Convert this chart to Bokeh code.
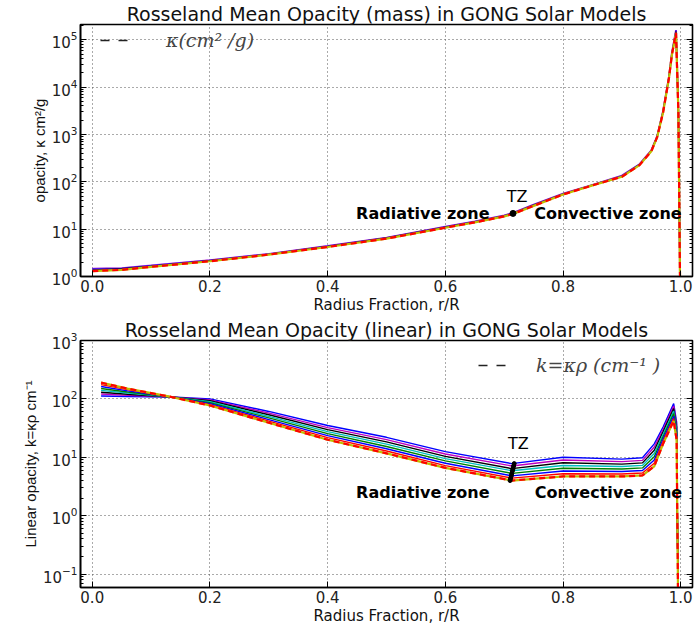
from bokeh.plotting import figure
from bokeh.layouts import column
from bokeh.models import (Label, Legend, LegendItem, LogAxis, FixedTicker,
                          PrintfTickFormatter, Range1d)
from bokeh.embed import file_html
from bokeh.resources import INLINE

# ---------------- data ----------------
x_ticks = [0.0, 0.2, 0.4, 0.6, 0.8, 1.0]

# top panel: Rosseland mean opacity kappa (cm^2/g)
r_mass = [0.0, 0.05, 0.1, 0.2, 0.3, 0.4, 0.5, 0.6, 0.65, 0.7, 0.715, 0.75, 0.8,
          0.85, 0.9, 0.93, 0.95, 0.96, 0.97, 0.98, 0.985, 0.992, 0.996, 0.999]
kappa_a = [1.45, 1.5, 1.7, 2.2, 3.0, 4.4, 6.6, 11.2, 14.5, 19.5, 22, 33, 56,
           86, 135, 235, 460, 920, 3100, 16500, 52000, 160000, 3000, 0.5]
kappa_b = [1.38, 1.45, 1.65, 2.15, 2.95, 4.3, 6.5, 11.0, 14.2, 19.0, 21.5, 32, 55,
           85, 130, 230, 450, 900, 3000, 16000, 50000, 150000, 3000, 0.5]
kappa_c = [1.3, 1.38, 1.6, 2.1, 2.9, 4.2, 6.3, 10.7, 13.9, 18.6, 21, 31, 54,
           84, 128, 225, 440, 880, 2900, 15500, 48000, 140000, 3000, 0.5]
tz_mass_r = [0.715]
tz_mass_k = [21.5]

# bottom panel: linear opacity k = kappa*rho (cm^-1), one list per model
r_lin = [0.015, 0.06, 0.134, 0.2, 0.3, 0.4, 0.5, 0.6, 0.713, 0.8, 0.9, 0.935,
         0.955, 0.97, 0.988, 0.993, 0.996]
k_m0 = [112, 110, 108, 100, 61, 35, 22, 12.5, 7.8, 10.0, 9.3, 9.8, 17, 33, 83, 40, 0.01]
k_m1 = [121, 115, 108, 96.3, 57.2, 32.3, 20.1, 11.4, 7.1, 8.98, 8.43, 8.87, 15.0, 30.0, 75.2, 36.2, 0.01]
k_m2 = [130, 120, 108, 92.8, 53.6, 29.8, 18.4, 10.4, 6.4, 8.06, 7.65, 8.03, 13.2, 27.3, 68.1, 32.8, 0.01]
k_m3 = [140, 126, 108, 89.4, 50.3, 27.5, 16.8, 9.5, 5.9, 7.24, 6.94, 7.27, 11.6, 24.8, 61.7, 29.7, 0.01]
k_m4 = [151, 131, 108, 86.1, 47.2, 25.4, 15.3, 8.7, 5.3, 6.50, 6.29, 6.58, 10.2, 22.5, 55.9, 26.9, 0.01]
k_m5 = [163, 137, 108, 82.9, 44.3, 23.5, 14.0, 7.9, 4.8, 5.84, 5.70, 5.96, 9.0, 20.5, 50.6, 24.3, 0.01]
k_m6 = [176, 144, 108, 79.9, 41.6, 21.7, 12.8, 7.2, 4.4, 5.24, 5.18, 5.40, 7.9, 18.6, 45.9, 22.0, 0.01]
k_m7 = [190, 150, 108, 77.0, 39.0, 20.0, 11.7, 6.6, 4.0, 4.70, 4.70, 4.90, 7.0, 17.0, 42.0, 20.0, 0.01]
tz_lin_r = [0.717, 0.716, 0.715, 0.714, 0.713, 0.712, 0.711, 0.710]
tz_lin_k = [7.8, 7.1, 6.4, 5.9, 5.3, 4.8, 4.4, 4.0]

# ---------------- styling helpers ----------------
FONT = "DejaVu Sans"
BLUE, GREEN, RED, CYAN, MAG, YEL, BLK = ("#0000ff", "#008000", "#ff0000",
                                         "#00bfbf", "#bf00bf", "#bfbf00", "#000000")


def decade_ticker(lo_exp, hi_exp):
    major = [10.0 ** e for e in range(lo_exp, hi_exp + 1)]
    minor = [m * 10.0 ** e for e in range(lo_exp - 1, hi_exp + 1) for m in range(2, 10)]
    return FixedTicker(ticks=major, minor_ticks=minor)


def make_fig(title, y_lo, y_hi, lo_exp, hi_exp, ylabel, frame_h):
    p = figure(frame_width=612, frame_height=frame_h, y_axis_type="log",
               x_range=Range1d(-0.02, 1.02), y_range=Range1d(y_lo, y_hi),
               output_backend="svg", toolbar_location=None,
               min_border_left=80, min_border_right=4, min_border_top=0,
               min_border_bottom=0, background_fill_color="white")
    p.extra_x_ranges = {"legend_only": Range1d(5, 6)}
    p.title.text = title
    p.title.text_font = FONT
    p.title.text_font_size = "19px"
    p.title.text_font_style = "normal"
    p.title.text_color = "#111111"
    p.title.align = "center"
    p.title.standoff = 0
    p.title.offset = 0

    p.outline_line_color = "black"
    p.outline_line_width = 1.6
    p.outline_line_alpha = 1.0

    xt = FixedTicker(ticks=x_ticks)
    p.xaxis.ticker = xt
    p.xaxis.formatter = PrintfTickFormatter(format="%.1f")
    yt = decade_ticker(lo_exp, hi_exp)
    p.yaxis.ticker = yt

    for ax in (p.xaxis, p.yaxis):
        ax.major_label_text_font = FONT
        ax.major_label_text_font_size = "15px"
        ax.major_label_text_color = "#222222"
        ax.axis_label_text_font = FONT
        ax.axis_label_text_font_style = "normal"
        ax.axis_label_text_color = "#111111"
        ax.axis_line_color = "black"
        ax.axis_line_width = 1.6
        ax.major_tick_in = 6
        ax.major_tick_out = 0
        ax.minor_tick_in = 3
        ax.minor_tick_out = 0
        ax.major_tick_line_color = "black"
        ax.minor_tick_line_color = "black"
        ax.major_label_standoff = 3
        ax.axis_label_standoff = 1
    p.xaxis.axis_label = "Radius Fraction, r/R"
    p.xaxis.axis_label_text_font_size = "15px"
    p.yaxis.axis_label = ylabel
    p.yaxis.axis_label_text_font = "Liberation Sans"
    p.yaxis.axis_label_text_font_size = "15px"

    right = LogAxis(ticker=yt, major_label_text_font_size="0px",
                    major_label_text_alpha=0, major_tick_in=6, major_tick_out=0,
                    minor_tick_in=3, minor_tick_out=0, axis_line_color="black",
                    major_label_standoff=0)
    p.add_layout(right, "right")

    for g in (p.xgrid, p.ygrid):
        g.grid_line_color = "#555555"
        g.grid_line_dash = "1 3"
        g.grid_line_width = 1
    p.ygrid.ticker = FixedTicker(ticks=[10.0 ** e for e in range(lo_exp, hi_exp + 1)])
    return p


lab_kw = dict(text_font=FONT, text_font_size="16px", text_color="black",
              text_baseline="middle")
leg_kw = dict(background_fill_alpha=0, border_line_alpha=0, padding=0, margin=0,
              label_text_font="DejaVu Serif", label_text_font_style="italic",
              label_text_font_size="19px", glyph_height=22, label_height=22)

# ---------------- top panel ----------------
FH1 = 252
p1 = make_fig("Rosseland Mean Opacity (mass) in GONG Solar Models", 1.0, 2.1e5,
              0, 5, "opacity, κ cm²/g", FH1)
p1.line(r_mass, kappa_a, line_color=MAG, line_width=2, line_alpha=0.8)
p1.line(r_mass, kappa_a, line_color=BLUE, line_width=1.5, line_alpha=0.6)
p1.line(r_mass, kappa_b, line_color=BLK, line_width=1.5, line_alpha=0.7)
p1.line(r_mass, kappa_c, line_color=YEL, line_width=2.2)
p1.line(r_mass, kappa_c, line_color=RED, line_width=2.2, line_dash="6 4")
p1.scatter(tz_mass_r, tz_mass_k, size=6, color="black")

leg1_r = p1.line(r_mass, kappa_b, x_range_name="legend_only", line_color="#222222",
                 line_width=1.5, line_dash="9 9")
leg1 = Legend(items=[LegendItem(label="κ(cm² /g)", renderers=[leg1_r])],
              location=(20, FH1 - 27), glyph_width=36, label_standoff=30, **leg_kw)
p1.add_layout(leg1)

p1.add_layout(Label(x=0.675, y=21.5, text="Radiative zone", text_align="right",
                    text_font_style="bold", **lab_kw))
p1.add_layout(Label(x=0.751, y=21.5, text="Convective zone", text_align="left",
                    text_font_style="bold", **lab_kw))
p1.add_layout(Label(x=0.722, y=50, text="TZ", text_align="center", **lab_kw))

# ---------------- bottom panel ----------------
FH2 = 247
p2 = make_fig("Rosseland Mean Opacity (linear) in GONG Solar Models", 0.059, 1000,
              -1, 3, "Linear opacity, k=κρ cm⁻¹", FH2)
series = [(k_m0, BLUE), (k_m1, MAG), (k_m2, BLK), (k_m3, CYAN),
          (k_m4, GREEN), (k_m5, BLUE), (k_m6, RED)]
for ys, c in series:
    p2.line(r_lin, ys, line_color=c, line_width=1.4)
p2.line(r_lin, k_m7, line_color=YEL, line_width=2.2)
p2.line(r_lin, k_m7, line_color=RED, line_width=2.2, line_dash="6 4")
p2.line(tz_lin_r, tz_lin_k, line_color="black", line_width=4)
p2.scatter(tz_lin_r, tz_lin_k, size=4, color="black")

leg2_r = p2.line(r_lin, k_m0, x_range_name="legend_only", line_color="#222222",
                 line_width=1.5, line_dash="9 9")
leg2 = Legend(items=[LegendItem(label="k=κρ (cm⁻¹ )", renderers=[leg2_r])],
              location=(398, FH2 - 36), glyph_width=28, label_standoff=30, **leg_kw)
p2.add_layout(leg2)

p2.add_layout(Label(x=0.675, y=2.5, text="Radiative zone", text_align="right",
                    text_font_style="bold", **lab_kw))
p2.add_layout(Label(x=0.752, y=2.5, text="Convective zone", text_align="left",
                    text_font_style="bold", **lab_kw))
p2.add_layout(Label(x=0.724, y=17, text="TZ", text_align="center", **lab_kw))

layout = column(p1, p2, spacing=0)
open("out.html", "w").write(file_html(layout, INLINE))
